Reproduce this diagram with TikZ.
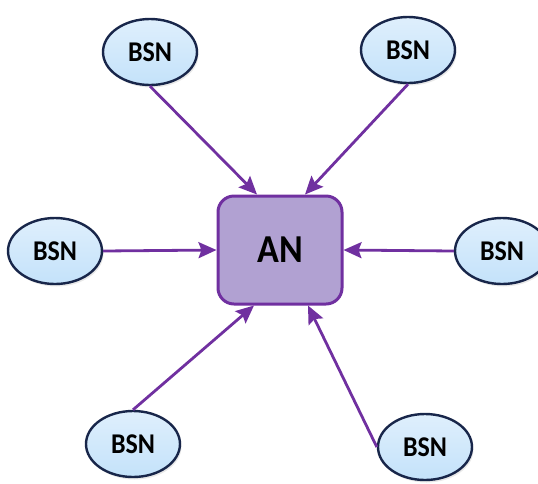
\documentclass[tikz,border=0pt]{standalone}
\usepackage{fontspec}
\setsansfont{Carlito}
\usetikzlibrary{shapes.geometric,arrows.meta,shadows}
\definecolor{bsnfill}{HTML}{C4E2FA}
\definecolor{bsnline}{HTML}{18264A}
\definecolor{anfill}{HTML}{B1A1D2}
\definecolor{anline}{HTML}{7030A0}
\begin{document}
\begin{tikzpicture}[x=1pt,y=-1pt,
  bsn/.style={ellipse,draw=bsnline,line width=2.4pt,top color=bsnfill!55!white,bottom color=bsnfill,
    minimum width=94pt,minimum height=66pt,inner sep=0pt,
    drop shadow={opacity=0.18,shadow xshift=1.5pt,shadow yshift=-2.5pt},
    font=\sffamily\bfseries\fontsize{26}{30}\selectfont},
  an/.style={rectangle,rounded corners=16pt,draw=anline,line width=3pt,fill=anfill,
    minimum width=124pt,minimum height=108pt,
    font=\sffamily\bfseries\fontsize{36}{40}\selectfont},
  link/.style={draw=anline,line width=2.8pt,-{Stealth[length=18pt,width=16pt,inset=3pt]}}]
\useasboundingbox (0,0) rectangle (538,483);
% access node in the middle
\node[an] (an) at (280,250) {\scalebox{1}[1.1]{AN}};
% sensor nodes round it
\node[bsn] (bsn-tl) at (150,52) {\scalebox{1}[1.1]{BSN}};
\node[bsn] (bsn-tr) at (408,50) {\scalebox{1}[1.1]{BSN}};
\node[bsn] (bsn-l) at (55,251) {\scalebox{1}[1.1]{BSN}};
\node[bsn] (bsn-r) at (502,251) {\scalebox{1}[1.1]{BSN}};
\node[bsn] (bsn-bl) at (133,444) {\scalebox{1}[1.1]{BSN}};
\node[bsn] (bsn-br) at (425,447) {\scalebox{1}[1.1]{BSN}};
% links into the access node
\draw[link] (bsn-tl.south) -- ([xshift=-23pt]an.north);
\draw[link] (bsn-tr.south) -- ([xshift=25pt]an.north);
\draw[link] (bsn-l.east) -- (an.west);
\draw[link] (bsn-r.west) -- (an.east);
\draw[link] (bsn-bl.north) -- ([xshift=-26pt]an.south);
\draw[link] (bsn-br.west) -- ([xshift=28pt]an.south);
\end{tikzpicture}
\end{document}
